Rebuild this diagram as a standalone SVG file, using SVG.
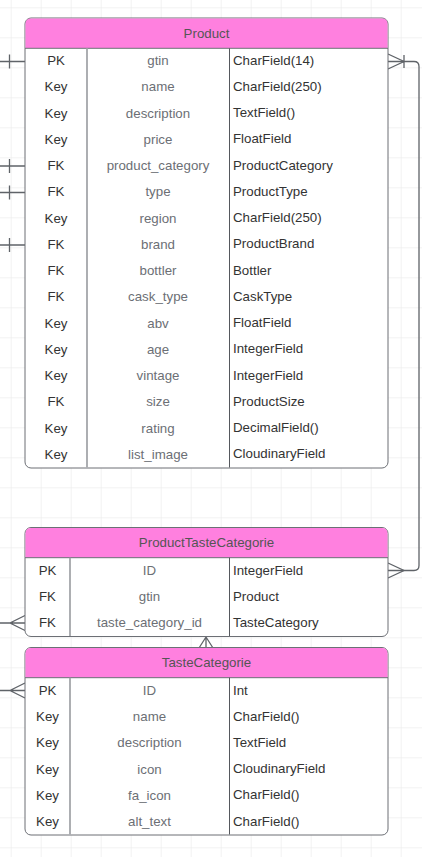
<svg xmlns="http://www.w3.org/2000/svg" width="422" height="857" viewBox="0 0 422 857">
<defs>
<pattern id="grid" x="10.7" y="7.3" width="30" height="30" patternUnits="userSpaceOnUse">
<path d="M0,0 H30 M0,0 V30" fill="none" stroke="#e6e6e6" stroke-width="1"/>
</pattern>
<style>
text{font-family:"Liberation Sans",Arial,sans-serif;font-size:13.3px}
.hdr{fill:#ff80df}
.box{fill:#fff;stroke:#6c6f75;stroke-width:1}
.ht{fill:#555;text-anchor:middle}
.k{fill:#333;text-anchor:middle}
.n{fill:#6c6f75;text-anchor:middle}
.t{fill:#333}
.d1{stroke:#a4a6aa;stroke-width:1.8}
.d2{stroke:#55585d;stroke-width:1}
.sep{stroke:#6c6f75;stroke-width:1}
.c{fill:none;stroke:#5f6368;stroke-width:1.3}
</style>
</defs>
<rect width="422" height="857" fill="#fff"/>
<rect width="422" height="857" fill="url(#grid)"/>

<g id="connectors">
<path class="c" d="M388,61.5 H414 Q419,61.5 419,66.5 V565.5 Q419,570.5 414,570.5 H388"/>
<path class="c" d="M388,54 L404,61.5 L388,69 M404,55 V68"/>
<path class="c" d="M388,563 L404,570.5 L388,578"/>
<path class="c" d="M0,61.5 H25 M9.5,54.5 V68.5"/>
<path class="c" d="M0,166 H25 M9.5,159 V173"/>
<path class="c" d="M0,192.5 H25 M9.5,185.5 V199.5"/>
<path class="c" d="M0,245 H25 M9.5,238 V252"/>
<path class="c" d="M0,623 H25 M25,615.5 L10,623 L25,630.5"/>
<path class="c" d="M0,690.5 H25 M25,683 L10,690.5 L25,698"/>
<path class="c" d="M206,636.5 V650 M206,637 L199,648 M206,637 L213,648 M199,650.5 H213"/>
</g>

<g id="product">
<rect class="box" x="25" y="18" width="363" height="450" rx="6"/>
<path class="hdr" d="M31,18.5 H382 Q387.5,18.5 387.5,24 V48 H25.5 V24 Q25.5,18.5 31,18.5 Z"/>
<line class="sep" x1="25" y1="48.3" x2="388" y2="48.3"/>
<line class="d1" x1="87" y1="48.3" x2="87" y2="467.5"/>
<line class="d2" x1="229.5" y1="48.3" x2="229.5" y2="467.5"/>
<text class="ht" x="206.5" y="38">Product</text>
<g class="k">
<text x="56" y="65">PK</text><text x="56" y="91.3">Key</text><text x="56" y="117.5">Key</text><text x="56" y="143.8">Key</text>
<text x="56" y="170">FK</text><text x="56" y="196.3">FK</text><text x="56" y="222.5">Key</text><text x="56" y="248.8">FK</text>
<text x="56" y="275">FK</text><text x="56" y="301.3">FK</text><text x="56" y="327.5">Key</text><text x="56" y="353.8">Key</text>
<text x="56" y="380">Key</text><text x="56" y="406.3">FK</text><text x="56" y="432.5">Key</text><text x="56" y="458.8">Key</text>
</g>
<g class="n">
<text x="158" y="65">gtin</text><text x="158" y="91.3">name</text><text x="158" y="117.5">description</text><text x="158" y="143.8">price</text>
<text x="158" y="170">product_category</text><text x="158" y="196.3">type</text><text x="158" y="222.5">region</text><text x="158" y="248.8">brand</text>
<text x="158" y="275">bottler</text><text x="158" y="301.3">cask_type</text><text x="158" y="327.5">abv</text><text x="158" y="353.8">age</text>
<text x="158" y="380">vintage</text><text x="158" y="406.3">size</text><text x="158" y="432.5">rating</text><text x="158" y="458.8">list_image</text>
</g>
<g class="t">
<text x="233" y="64.5">CharField(14)</text><text x="233" y="90.8">CharField(250)</text><text x="233" y="117">TextField()</text><text x="233" y="143.3">FloatField</text>
<text x="233" y="169.5">ProductCategory</text><text x="233" y="195.8">ProductType</text><text x="233" y="222">CharField(250)</text><text x="233" y="248.3">ProductBrand</text>
<text x="233" y="274.5">Bottler</text><text x="233" y="300.8">CaskType</text><text x="233" y="327">FloatField</text><text x="233" y="353.3">IntegerField</text>
<text x="233" y="379.5">IntegerField</text><text x="233" y="405.8">ProductSize</text><text x="233" y="432">DecimalField()</text><text x="233" y="458.3">CloudinaryField</text>
</g>
</g>

<g id="producttastecategorie">
<rect class="box" x="25" y="527.5" width="363" height="109" rx="6"/>
<path class="hdr" d="M31,528 H382 Q387.5,528 387.5,533.5 V557.7 H25.5 V533.5 Q25.5,528 31,528 Z"/>
<line class="sep" x1="25" y1="557.7" x2="388" y2="557.7"/>
<line class="d1" x1="70" y1="557.7" x2="70" y2="636"/>
<line class="d2" x1="229.5" y1="557.7" x2="229.5" y2="636"/>
<text class="ht" x="206.5" y="547">ProductTasteCategorie</text>
<g class="k"><text x="47.5" y="575">PK</text><text x="47.5" y="601">FK</text><text x="47.5" y="627.3">FK</text></g>
<g class="n"><text x="149.5" y="575">ID</text><text x="149.5" y="601">gtin</text><text x="149.5" y="627.3">taste_category_id</text></g>
<g class="t"><text x="233" y="574.5">IntegerField</text><text x="233" y="600.5">Product</text><text x="233" y="626.8">TasteCategory</text></g>
</g>

<g id="tastecategorie">
<rect class="box" x="25" y="647.5" width="363" height="187.5" rx="6"/>
<path class="hdr" d="M31,648 H382 Q387.5,648 387.5,653.5 V677.7 H25.5 V653.5 Q25.5,648 31,648 Z"/>
<line class="sep" x1="25" y1="677.7" x2="388" y2="677.7"/>
<line class="d1" x1="70" y1="677.7" x2="70" y2="834.5"/>
<line class="d2" x1="229.5" y1="677.7" x2="229.5" y2="834.5"/>
<text class="ht" x="206.5" y="667">TasteCategorie</text>
<g class="k"><text x="47.5" y="695">PK</text><text x="47.5" y="721.2">Key</text><text x="47.5" y="747.4">Key</text><text x="47.5" y="773.6">Key</text><text x="47.5" y="799.8">Key</text><text x="47.5" y="826">Key</text></g>
<g class="n"><text x="149.5" y="695">ID</text><text x="149.5" y="721.2">name</text><text x="149.5" y="747.4">description</text><text x="149.5" y="773.6">icon</text><text x="149.5" y="799.8">fa_icon</text><text x="149.5" y="826">alt_text</text></g>
<g class="t"><text x="233" y="694.5">Int</text><text x="233" y="720.7">CharField()</text><text x="233" y="746.9">TextField</text><text x="233" y="773.1">CloudinaryField</text><text x="233" y="799.3">CharField()</text><text x="233" y="825.5">CharField()</text></g>
</g>
</svg>
